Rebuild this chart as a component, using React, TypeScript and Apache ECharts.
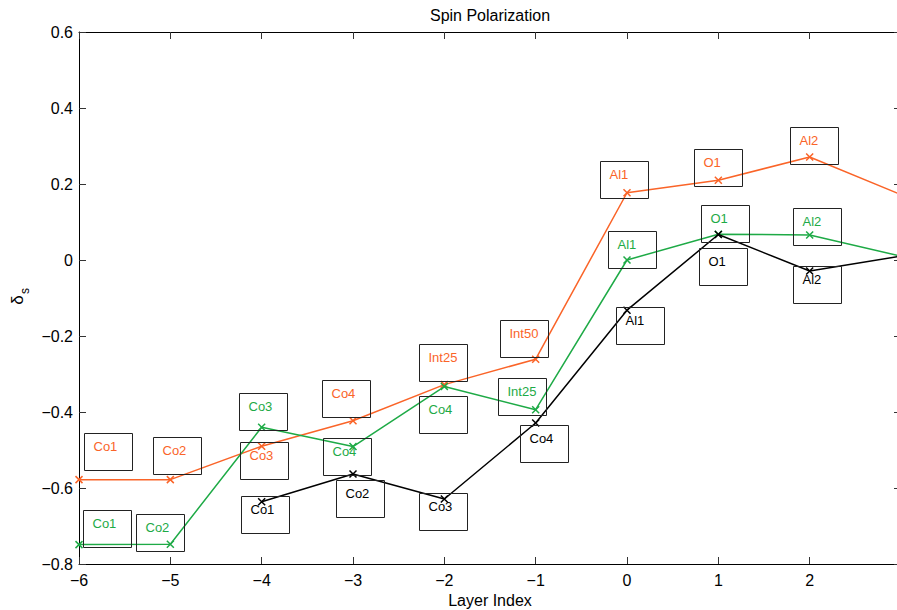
import React, { useEffect, useRef } from "react";
import * as echarts from "echarts";

const layerIndex = [-6, -5, -4, -3, -2, -1, 0, 1, 2, 3];
const orangeValues = [-0.578, -0.578, -0.49, -0.423, -0.328, -0.261, 0.177, 0.21, 0.271, 0.172];
const greenValues = [-0.749, -0.748, -0.44, -0.491, -0.333, -0.394, 0.0, 0.068, 0.066, 0.01];
const blackIndex = [-4, -3, -2, -1, 0, 1, 2, 3];
const blackValues = [-0.636, -0.563, -0.629, -0.429, -0.132, 0.067, -0.029, 0.01];

const orangeLabels = ["Co1", "Co2", "Co3", "Co4", "Int25", "Int50", "Al1", "O1", "Al2"];
const orangeLabelX = [-5.94, -5.19, -4.24, -3.34, -2.28, -1.39, -0.3, 0.73, 1.78];
const orangeLabelY = [-0.456, -0.466, -0.479, -0.316, -0.221, -0.158, 0.261, 0.292, 0.35];

const greenLabels = ["Co1", "Co2", "Co3", "Co4", "Co4", "Int25", "Al1", "O1", "Al2"];
const greenLabelX = [-5.96, -5.38, -4.25, -3.33, -2.28, -1.41, -0.21, 0.81, 1.82];
const greenLabelY = [-0.659, -0.669, -0.349, -0.469, -0.358, -0.311, 0.077, 0.146, 0.138];

const blackLabels = ["Co1", "Co2", "Co3", "Co4", "Al1", "O1", "Al2"];
const blackLabelX = [-4.23, -3.19, -2.28, -1.17, -0.12, 0.79, 1.82];
const blackLabelY = [-0.621, -0.58, -0.612, -0.435, -0.123, 0.031, -0.015];

const xTicks = { min: -6, max: 3, interval: 1 };
const yTicks = { min: -0.8, max: 0.6, interval: 0.2 };

const ORANGE = "#fa6428";
const GREEN = "#1eaa46";
const BLACK = "#000000";
const FONT = '"Liberation Sans", Arial, Helvetica, sans-serif';

const crossSymbol = "path://M0,0L10,10M10,0L0,10";

function lineSeries(name: string, xs: number[], ys: number[], color: string, z: number) {
  return {
    name,
    type: "line",
    data: xs.map((x, i) => [x, ys[i]]),
    symbol: crossSymbol,
    symbolSize: 7,
    showSymbol: true,
    clip: true,
    z,
    lineStyle: { color, width: 1.5 },
    itemStyle: { color, borderColor: color, borderWidth: 1.5 },
    emphasis: { disabled: true },
  };
}

function labelSeries(texts: string[], xs: number[], ys: number[], color: string) {
  return {
    type: "custom",
    coordinateSystem: "cartesian2d",
    clip: false,
    z: 5,
    silent: true,
    data: xs.map((x, i) => [x, ys[i]]),
    renderItem: (params: any, api: any) => {
      const p = api.coord([api.value(0), api.value(1)]);
      const bx = Math.round(p[0]) + 0.5;
      const by = Math.round(p[1]) + 0.5;
      return {
        type: "group",
        children: [
          {
            type: "rect",
            shape: { x: bx, y: by, width: 48, height: 37 },
            style: { fill: "none", stroke: "#222", lineWidth: 1 },
          },
          {
            type: "text",
            style: {
              text: texts[params.dataIndex],
              x: bx + 9,
              y: by + 13,
              fill: color,
              fontSize: 13,
              fontFamily: FONT,
              align: "left",
              verticalAlign: "middle",
            },
          },
        ],
      };
    },
  };
}

const minus = (s: string) => s.replace("-", "\u2212");

export default function App() {
  const ref = useRef<HTMLDivElement>(null);
  useEffect(() => {
    if (!ref.current) return;
    const chart = echarts.init(ref.current, null, { renderer: "svg" });
    const axisLine = { show: true, onZero: false, lineStyle: { color: "#000", width: 1 } };
    const axisTick = { show: true, inside: true, length: 7, lineStyle: { color: "#333", width: 1 } };
    const labelStyle = { color: "#000", fontSize: 16, fontFamily: FONT };
    chart.setOption({
      animation: false,
      backgroundColor: "#ffffff",
      grid: { left: 79, right: 0, top: 32, bottom: 46, containLabel: false },
      xAxis: [
        {
          type: "value",
          position: "bottom",
          ...xTicks,
          axisLine,
          axisTick,
          splitLine: { show: false },
          axisLabel: {
            ...labelStyle,
            margin: 8,
            showMaxLabel: false,
            formatter: (v: number) => (v === 3 ? "" : minus(String(v))),
          },
        },
        {
          type: "value",
          position: "top",
          ...xTicks,
          axisLine,
          axisTick,
          splitLine: { show: false },
          axisLabel: { show: false },
        },
      ],
      yAxis: [
        {
          type: "value",
          position: "left",
          ...yTicks,
          axisLine,
          axisTick,
          splitLine: { show: false },
          axisLabel: {
            ...labelStyle,
            margin: 6,
            formatter: (v: number) => {
              const r = Math.round(v * 10) / 10;
              return r === 0 ? "0" : minus(r.toFixed(1));
            },
          },
        },
        {
          type: "value",
          position: "right",
          ...yTicks,
          axisLine,
          axisTick,
          splitLine: { show: false },
          axisLabel: { show: false },
        },
      ],
      series: [
        lineSeries("orange", layerIndex, orangeValues, ORANGE, 2),
        lineSeries("green", layerIndex, greenValues, GREEN, 3),
        lineSeries("black", blackIndex, blackValues, BLACK, 4),
        labelSeries(orangeLabels, orangeLabelX, orangeLabelY, ORANGE),
        labelSeries(greenLabels, greenLabelX, greenLabelY, GREEN),
        labelSeries(blackLabels, blackLabelX, blackLabelY, BLACK),
      ],
      graphic: [
        {
          type: "text",
          style: {
            text: "Spin Polarization",
            x: 490,
            y: 15,
            fill: "#000",
            fontSize: 16,
            fontFamily: FONT,
            align: "center",
            verticalAlign: "middle",
          },
        },
        {
          type: "text",
          style: {
            text: "Layer Index",
            x: 490,
            y: 600,
            fill: "#000",
            fontSize: 16,
            fontFamily: FONT,
            align: "center",
            verticalAlign: "middle",
          },
        },
        {
          type: "text",
          x: 17,
          y: 300,
          rotation: Math.PI / 2,
          style: {
            text: "\u03b4",
            x: 0,
            y: 0,
            fill: "#000",
            fontSize: 17,
            fontFamily: FONT,
            align: "center",
            verticalAlign: "middle",
          },
        },
        {
          type: "text",
          x: 25,
          y: 291,
          rotation: Math.PI / 2,
          style: {
            text: "s",
            x: 0,
            y: 0,
            fill: "#000",
            fontSize: 12,
            fontFamily: FONT,
            align: "center",
            verticalAlign: "middle",
          },
        },
      ],
    });
    return () => chart.dispose();
  }, []);
  return (
    <div
      style={{
        position: "fixed",
        left: 0,
        top: 0,
        width: 897,
        height: 610,
        overflow: "hidden",
        background: "#fff",
      }}
    >
      <div ref={ref} style={{ width: 901, height: 610 }} />
    </div>
  );
}
